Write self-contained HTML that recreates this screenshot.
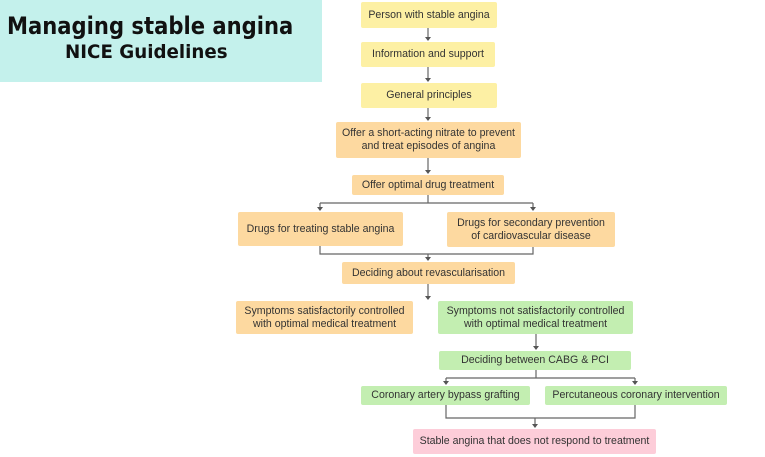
<!DOCTYPE html>
<html><head><style>
body{margin:0;width:765px;height:457px;background:#fff;position:relative;overflow:hidden;font-family:"Liberation Sans",sans-serif;}
.t{position:absolute;left:0;top:0;width:322px;height:82px;background:#c4f1ec;}
.t div{position:absolute;font-family:"DejaVu Sans","Liberation Sans",sans-serif;font-weight:bold;color:#111;white-space:nowrap;transform-origin:0 0;}
.b{position:absolute;display:flex;align-items:center;justify-content:center;text-align:center;font-size:10.6px;line-height:13px;color:#333;border-radius:2px;white-space:nowrap;}
.y{background:#fdf0a4}.o{background:#fdd9a0}.g{background:#c3eeb1}.p{background:#fdcdd9}
</style></head><body>
<div class="t"><div style="left:7px;top:12px;font-size:24px;transform:scaleX(0.88)">Managing stable angina</div>
<div style="left:65px;top:41px;font-size:19px;transform:scaleX(0.96)">NICE Guidelines</div></div>
<svg style="position:absolute;left:0;top:0" width="765" height="457">
<g stroke="#666" stroke-width="1.2" fill="none">
<path d="M428 28V40M428 67V81M428 108V120M428 158V173M428 195V203M320 203H533M320 203V210M533 203V210M320 246V254H533V247M428 254V260M428 284V299M536 334V349M536 370V378M446 378H635M446 378V384M635 378V384M446 405V418H635V405M535 418V427"/>
</g>
<g fill="#555">
<path d="M425 37h6l-3 4z M425 78h6l-3 4z M425 117h6l-3 4z M425 170h6l-3 4z M317 207h6l-3 4z M530 207h6l-3 4z M425 257h6l-3 4z M425 296h6l-3 4z M533 346h6l-3 4z M443 381h6l-3 4z M632 381h6l-3 4z M532 424h6l-3 4z"/>
</g></svg>
<div class="b y" style="left:361px;top:2px;width:136px;height:26px">Person with stable angina</div>
<div class="b y" style="left:361px;top:42px;width:134px;height:25px">Information and support</div>
<div class="b y" style="left:361px;top:83px;width:136px;height:25px">General principles</div>
<div class="b o" style="left:336px;top:122px;width:185px;height:36px">Offer a short-acting nitrate to prevent<br>and treat episodes of angina</div>
<div class="b o" style="left:352px;top:175px;width:152px;height:20px">Offer optimal drug treatment</div>
<div class="b o" style="left:238px;top:212px;width:165px;height:34px">Drugs for treating stable angina</div>
<div class="b o" style="left:447px;top:212px;width:168px;height:35px">Drugs for secondary prevention<br>of cardiovascular disease</div>
<div class="b o" style="left:342px;top:262px;width:173px;height:22px">Deciding about revascularisation</div>
<div class="b o" style="left:236px;top:301px;width:177px;height:33px">Symptoms satisfactorily controlled<br>with optimal medical treatment</div>
<div class="b g" style="left:438px;top:301px;width:195px;height:33px">Symptoms not satisfactorily controlled<br>with optimal medical treatment</div>
<div class="b g" style="left:439px;top:351px;width:192px;height:19px">Deciding between CABG &amp; PCI</div>
<div class="b g" style="left:361px;top:386px;width:169px;height:19px">Coronary artery bypass grafting</div>
<div class="b g" style="left:545px;top:386px;width:182px;height:19px">Percutaneous coronary intervention</div>
<div class="b p" style="left:413px;top:429px;width:243px;height:25px">Stable angina that does not respond to treatment</div>
</body></html>
